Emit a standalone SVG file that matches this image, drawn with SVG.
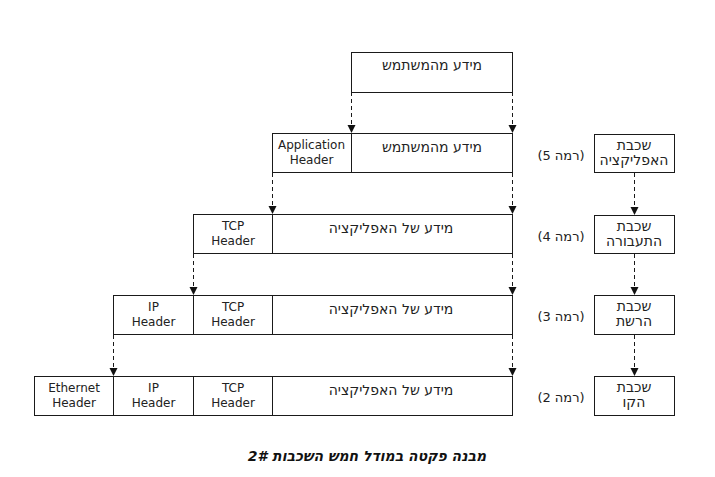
<svg xmlns="http://www.w3.org/2000/svg" width="715" height="477" viewBox="0 0 715 477">
<defs>
<marker id="ah" markerUnits="userSpaceOnUse" markerWidth="10" markerHeight="9" refX="8" refY="4" orient="auto">
<path d="M0,0 L8,4 L0,8 z" fill="#111"/>
</marker>
<style>
.b{fill:#fff;stroke:#1a1a1a;stroke-width:1}
.d{stroke:#1a1a1a;stroke-width:1}
.t{font-family:"DejaVu Sans",Verdana,sans-serif;font-size:12px;fill:#222;text-anchor:middle}
.h{font-family:"DejaVu Sans","Liberation Sans",sans-serif;font-size:14px;fill:#222;text-anchor:middle;direction:rtl}
.l{font-family:"DejaVu Sans","Liberation Sans",sans-serif;font-size:13px;fill:#222;text-anchor:middle;direction:rtl}
.c{stroke:#1a1a1a;stroke-width:1;stroke-dasharray:4 3;fill:none}
.cap{font-family:"DejaVu Sans",Verdana,sans-serif;font-size:14px;font-weight:bold;font-style:italic;fill:#111;text-anchor:middle;direction:rtl}
</style>
</defs>
<rect width="715" height="477" fill="#fff"/>

<g id="connectors">
<line class="c" x1="351.5" y1="92" x2="351.5" y2="133" marker-end="url(#ah)"/>
<line class="c" x1="512.5" y1="92" x2="512.5" y2="133" marker-end="url(#ah)"/>
<line class="c" x1="272.5" y1="173" x2="272.5" y2="214" marker-end="url(#ah)"/>
<line class="c" x1="512.5" y1="173" x2="512.5" y2="214" marker-end="url(#ah)"/>
<line class="c" x1="193.5" y1="254" x2="193.5" y2="295" marker-end="url(#ah)"/>
<line class="c" x1="512.5" y1="254" x2="512.5" y2="295" marker-end="url(#ah)"/>
<line class="c" x1="113.5" y1="335" x2="113.5" y2="376" marker-end="url(#ah)"/>
<line class="c" x1="512.5" y1="335" x2="512.5" y2="376" marker-end="url(#ah)"/>
<line class="c" x1="634.5" y1="173" x2="634.5" y2="215" marker-end="url(#ah)"/>
<line class="c" x1="634.5" y1="254" x2="634.5" y2="295" marker-end="url(#ah)"/>
<line class="c" x1="634.5" y1="335" x2="634.5" y2="376" marker-end="url(#ah)"/>
</g>

<g id="user-data">
<rect class="b" x="351.5" y="52.5" width="161" height="40"/>
<text class="h" x="432" y="70">מידע מהמשתמש</text>
</g>

<g id="packet-5">
<rect class="b" x="272.5" y="133.5" width="240" height="39"/>
<line class="d" x1="351.5" y1="133.5" x2="351.5" y2="172.5"/>
<text class="t" x="311.5" y="149">Application</text>
<text class="t" x="311.5" y="164">Header</text>
<text class="h" x="432" y="152">מידע מהמשתמש</text>
</g>

<g id="packet-4">
<rect class="b" x="193.5" y="214.5" width="319" height="39"/>
<line class="d" x1="272.5" y1="214.5" x2="272.5" y2="253.5"/>
<text class="t" x="233" y="230">TCP</text>
<text class="t" x="233" y="245">Header</text>
<text class="h" x="391" y="233">מידע של האפליקציה</text>
</g>

<g id="packet-3">
<rect class="b" x="113.5" y="295.5" width="399" height="39"/>
<line class="d" x1="193.5" y1="295.5" x2="193.5" y2="334.5"/>
<line class="d" x1="272.5" y1="295.5" x2="272.5" y2="334.5"/>
<text class="t" x="153.5" y="311">IP</text>
<text class="t" x="153.5" y="326">Header</text>
<text class="t" x="233" y="311">TCP</text>
<text class="t" x="233" y="326">Header</text>
<text class="h" x="391" y="314">מידע של האפליקציה</text>
</g>

<g id="packet-2">
<rect class="b" x="34.5" y="376.5" width="478" height="39"/>
<line class="d" x1="113.5" y1="376.5" x2="113.5" y2="415.5"/>
<line class="d" x1="193.5" y1="376.5" x2="193.5" y2="415.5"/>
<line class="d" x1="272.5" y1="376.5" x2="272.5" y2="415.5"/>
<text class="t" x="74" y="392">Ethernet</text>
<text class="t" x="74" y="407">Header</text>
<text class="t" x="153.5" y="392">IP</text>
<text class="t" x="153.5" y="407">Header</text>
<text class="t" x="233" y="392">TCP</text>
<text class="t" x="233" y="407">Header</text>
<text class="h" x="391" y="395">מידע של האפליקציה</text>
</g>

<g id="level-labels">
<text class="l" x="561" y="160">(רמה 5)</text>
<text class="l" x="561" y="241">(רמה 4)</text>
<text class="l" x="561" y="321">(רמה 3)</text>
<text class="l" x="561" y="402">(רמה 2)</text>
</g>

<g id="layer-application">
<rect class="b" x="594.5" y="134.5" width="80" height="38"/>
<text class="h" x="634" y="150">שכבת</text>
<text class="h" x="634" y="165">האפליקציה</text>
</g>
<g id="layer-transport">
<rect class="b" x="594.5" y="215.5" width="80" height="38"/>
<text class="h" x="634" y="231">שכבת</text>
<text class="h" x="634" y="246">התעבורה</text>
</g>
<g id="layer-network">
<rect class="b" x="594.5" y="295.5" width="80" height="39"/>
<text class="h" x="634" y="311">שכבת</text>
<text class="h" x="634" y="326">הרשת</text>
</g>
<g id="layer-link">
<rect class="b" x="594.5" y="376.5" width="80" height="39"/>
<text class="h" x="634" y="392">שכבת</text>
<text class="h" x="634" y="407">הקו</text>
</g>

<text class="cap" x="367" y="461">מבנה פקטה במודל חמש השכבות 2#</text>
</svg>
